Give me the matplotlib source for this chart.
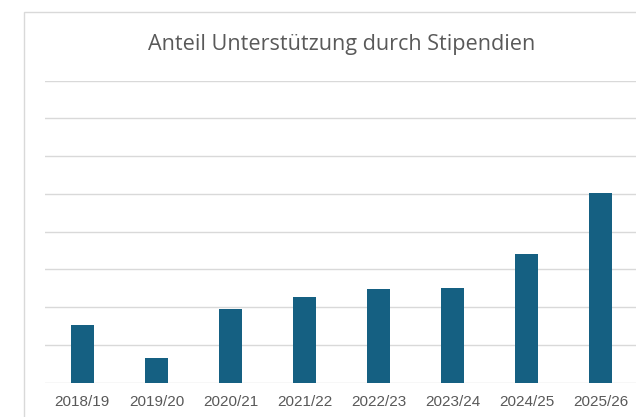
import matplotlib.pyplot as plt
from matplotlib.patches import Rectangle

# data (grid step = 1 unit, no y labels shown)
years = ['2018/19', '2019/20', '2020/21', '2021/22', '2022/23', '2023/24', '2024/25', '2025/26']
share = [1.53, 0.65, 1.96, 2.26, 2.47, 2.50, 3.40, 5.02]
grid_steps = list(range(0, 9))

bar_color = '#156082'
text_color = '#595959'
grid_color = '#D9D9D9'

plt.rcParams['font.family'] = ['Liberation Sans', 'DejaVu Sans']

fig = plt.figure(figsize=(6.36, 4.17), dpi=100)
W, H = 636, 417

# chart frame (cropped on the right/bottom in the reference)
frame = Rectangle((24 / W, -0.1), 1.2, 1 - 12 / H + 0.1, transform=fig.transFigure,
                  fill=False, edgecolor=grid_color, linewidth=1.0, clip_on=False)
fig.patches.append(frame)

ax = fig.add_axes([45.3 / W, 34.3 / H, (637.8 - 45.3) / W, (382.7 - 80.7) / H])
ax.bar(range(len(years)), share, width=0.315, color=bar_color, zorder=3)

for g in grid_steps:
    ax.axhline(g, color=grid_color, linewidth=1.0, zorder=1)

ax.set_xlim(-0.5, len(years) - 0.5)
ax.set_ylim(0, grid_steps[-1])
ax.set_yticks([])
ax.set_xticks(range(len(years)))
ax.set_xticklabels(years, fontsize=11, color=text_color)
ax.tick_params(axis='x', length=0, pad=9)
for s in ax.spines.values():
    s.set_visible(False)

fig.text(342 / W, 1 - 50 / H, 'Anteil Unterstützung durch Stipendien',
         ha='center', va='baseline', fontsize=15.6, color=text_color,
         family=['Open Sans', 'DejaVu Sans'])

fig.savefig('out.png', dpi=100)
